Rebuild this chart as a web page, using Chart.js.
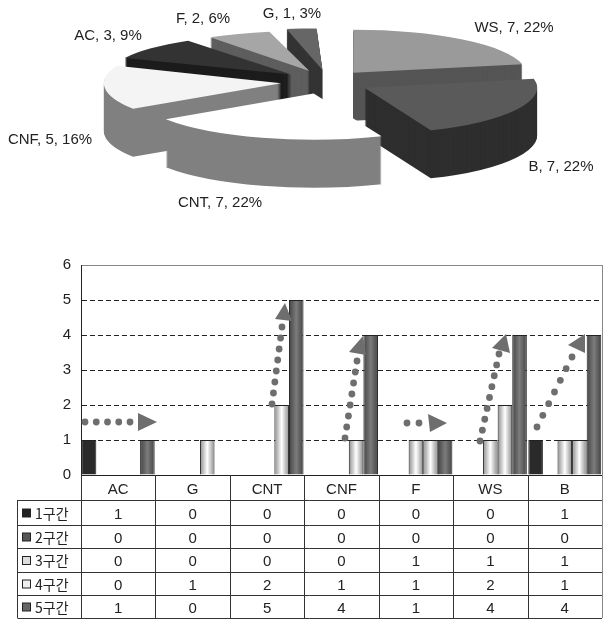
<!DOCTYPE html>
<html>
<head>
<meta charset="utf-8">
<style>
body { margin: 0; background: #fff; }
canvas { position: absolute; left: 0; top: 0; filter: blur(0.45px); }
</style>
<script src="https://cdn.jsdelivr.net/npm/chart.js@4"></script>
</head>
<body>
<canvas id="barChart" width="603" height="619"></canvas>
<canvas id="pieChart" width="603" height="250"></canvas>
<script>
// pie data, clockwise from 12 o'clock
const pieCategories = ['WS', 'B', 'CNT', 'CNF', 'AC', 'F', 'G'];
const pieValues = [7, 7, 7, 5, 3, 2, 1];
const piePercents = [22, 22, 22, 16, 9, 6, 3];
const pieTopColors = ['#9a9a9a', '#5a5a5a', '#ffffff', '#f4f4f4', '#333333', '#a6a6a6', '#666666'];
const pieSideColors = ['#555555', '#2e2e2e', '#808080', '#808080', '#1c1c1c', '#5e5e5e', '#333333'];
const pieDrawOrder = [6, 5, 4, 0, 1, 3, 2];
const pieLabelSpots = [[514, 28], [561, 167], [220, 203], [50, 140], [108, 36], [203, 19], [292, 14]];
// back slices get smaller (perspective): x scale, y scale, x nudge per slice
const pieFit = [[0.97, 0.93, -3], [0.97, 1, -3], [1, 1, 0], [0.96, 0.97, 0], [0.92, 0.8, 0], [0.9, 0.75, 0], [1, 0.75, 0]];

// bar + table data
const categories = ['AC', 'G', 'CNT', 'CNF', 'F', 'WS', 'B'];
const seriesNames = ['1구간', '2구간', '3구간', '4구간', '5구간'];
const series1 = [1, 0, 0, 0, 0, 0, 1];
const series2 = [0, 0, 0, 0, 0, 0, 0];
const series3 = [0, 0, 0, 0, 1, 1, 1];
const series4 = [0, 1, 2, 1, 1, 2, 1];
const series5 = [1, 0, 5, 4, 1, 4, 4];
const yTicks = [0, 1, 2, 3, 4, 5, 6];

const allSeries = [series1, series2, series3, series4, series5];
const keyColors = ['#222222', '#555555', '#dddddd', '#eeeeee', '#666666'];
const rowLines = [500, 525, 548, 572, 595, 618];

// dotted arrows over the bars: dots from/to, count, then the head triangle
const arrows = [
    { from: [85, 422], to: [130, 422], dots: 5, head: [[138, 413], [157, 422], [138, 431]] },
    { from: [272, 404], to: [282, 327], dots: 8, head: [[285, 303], [275, 319], [292, 321]] },
    { from: [345, 438], to: [357, 361], dots: 8, head: [[363, 336], [349, 352], [366, 355]] },
    { from: [407, 423], to: [419, 423], dots: 2, head: [[428, 414], [447, 423], [430, 432]] },
    { from: [480, 441], to: [499, 354], dots: 9, head: [[506, 334], [492, 348], [510, 353]] },
    { from: [537, 427], to: [572, 357], dots: 7, head: [[568, 345], [585, 334], [585, 353]] }
];

const textFont = '15px "Liberation Sans", Arial, sans-serif';

// squash the pie and stack it up so it looks 3D
const pie3d = {
    id: 'pie3d',
    beforeDatasetDraw(chart) {
        const ctx = chart.ctx;
        const arcs = chart.getDatasetMeta(0).data;
        const squash = 0.26;
        const depth = 48;

        function drawSlice(arc, i) {
            const mid = (arc.startAngle + arc.endAngle) / 2;
            const shift = arc.options.offset / 4;
            const apexX = arc.x + Math.cos(mid) * shift;
            const apexY = arc.y + Math.sin(mid) * shift;
            ctx.save();
            ctx.translate(apexX + pieFit[i][2], apexY);
            ctx.scale(pieFit[i][0], pieFit[i][1]);
            ctx.translate(-apexX, -apexY);
            arc.draw(ctx);
            ctx.restore();
        }

        ctx.save();
        ctx.translate(327, 82);
        ctx.scale(1, squash);
        ctx.translate(-arcs[0].x, -arcs[0].y);
        pieDrawOrder.forEach(i => {
            const arc = arcs[i];
            const topOptions = arc.options;
            arc.options = { ...topOptions, backgroundColor: pieSideColors[i] };
            for (let d = depth; d > 0; d--) {
                ctx.save();
                ctx.translate(0, d / squash);
                drawSlice(arc, i);
                ctx.restore();
            }
            arc.options = topOptions;
            drawSlice(arc, i);
        });
        ctx.restore();
        return false;
    },
    afterDraw(chart) {
        const ctx = chart.ctx;
        ctx.save();
        ctx.font = textFont;
        ctx.fillStyle = '#222';
        ctx.textAlign = 'center';
        ctx.textBaseline = 'middle';
        pieCategories.forEach((name, i) => {
            const spot = pieLabelSpots[i];
            ctx.fillText(name + ', ' + pieValues[i] + ', ' + piePercents[i] + '%', spot[0], spot[1]);
        });
        ctx.restore();
    }
};

new Chart(document.getElementById('pieChart'), {
    type: 'pie',
    data: {
        labels: pieCategories,
        datasets: [{
            data: pieValues,
            backgroundColor: pieTopColors,
            borderWidth: 0,
            offset: 184,
            radius: 177
        }]
    },
    options: {
        responsive: false,
        animation: false,
        events: [],
        plugins: { legend: { display: false }, tooltip: { enabled: false } }
    },
    plugins: [pie3d]
});

function barFill(stops) {
    return function(c) {
        const xScale = c.chart.scales.x;
        if (!xScale || c.dataIndex === undefined) return stops[1];
        const slot = xScale.width / categories.length;
        const bar = slot * 0.98 / allSeries.length;
        const left = xScale.getPixelForValue(c.dataIndex) - slot * 0.49 + c.datasetIndex * bar;
        if (!isFinite(left) || !isFinite(bar)) return stops[1];
        const g = c.chart.ctx.createLinearGradient(left, 0, left + bar, 0);
        stops.forEach((s, i) => g.addColorStop(i / (stops.length - 1), s));
        return g;
    };
}

const barFills = [
    '#2a2a2a',
    '#555555',
    barFill(['#8c8c8c', '#ffffff', '#8c8c8c']),
    barFill(['#8c8c8c', '#ffffff', '#8c8c8c']),
    barFill(['#444444', '#7c7c7c', '#444444'])
];

// data table under the axis + arrows
const tableAndArrows = {
    id: 'tableAndArrows',
    afterDraw(chart) {
        const ctx = chart.ctx;
        const area = chart.chartArea;
        const x = chart.scales.x;
        const slot = x.width / categories.length;
        const bottom = rowLines[rowLines.length - 1];
        const tableLeft = 17.5;

        arrows.forEach(a => {
            ctx.fillStyle = '#6e6e6e';
            for (let i = 0; i < a.dots; i++) {
                const t = a.dots > 1 ? i / (a.dots - 1) : 0;
                ctx.beginPath();
                ctx.arc(a.from[0] + (a.to[0] - a.from[0]) * t, a.from[1] + (a.to[1] - a.from[1]) * t, 3.4, 0, Math.PI * 2);
                ctx.fill();
            }
            ctx.beginPath();
            ctx.moveTo(a.head[0][0], a.head[0][1]);
            ctx.lineTo(a.head[1][0], a.head[1][1]);
            ctx.lineTo(a.head[2][0], a.head[2][1]);
            ctx.closePath();
            ctx.fill();
        });

        ctx.strokeStyle = '#333';
        ctx.lineWidth = 1;
        ctx.beginPath();
        rowLines.forEach(y => {
            ctx.moveTo(tableLeft, y + 0.5);
            ctx.lineTo(area.right, y + 0.5);
        });
        ctx.moveTo(tableLeft, rowLines[0]);
        ctx.lineTo(tableLeft, bottom);
        for (let i = 0; i < categories.length; i++) {
            const px = Math.round(area.left + slot * i) + 0.5;
            ctx.moveTo(px, area.bottom);
            ctx.lineTo(px, bottom);
        }
        ctx.stroke();

        ctx.strokeStyle = '#888';
        ctx.beginPath();
        ctx.moveTo(area.right + 0.5, area.top);
        ctx.lineTo(area.right + 0.5, bottom);
        ctx.stroke();

        ctx.textBaseline = 'middle';
        allSeries.forEach((values, r) => {
            const mid = (rowLines[r] + rowLines[r + 1]) / 2 + 1;
            ctx.fillStyle = keyColors[r];
            ctx.strokeStyle = '#222';
            ctx.fillRect(22.5, mid - 4.5, 8, 8);
            ctx.strokeRect(22.5, mid - 4.5, 8, 8);
            ctx.fillStyle = '#222';
            ctx.textAlign = 'left';
            ctx.font = '14px "Noto Sans CJK KR", sans-serif';
            ctx.fillText(seriesNames[r], 35, mid);
            ctx.textAlign = 'center';
            ctx.font = textFont;
            values.forEach((v, i) => {
                ctx.fillText(String(v), x.getPixelForValue(i), mid + 1);
            });
        });
    }
};

new Chart(document.getElementById('barChart'), {
    type: 'bar',
    data: {
        labels: categories,
        datasets: allSeries.map((values, i) => ({
            label: seriesNames[i],
            data: values,
            backgroundColor: barFills[i],
            borderColor: '#222222',
            borderWidth: 1,
            categoryPercentage: 0.98,
            barPercentage: 1
        }))
    },
    options: {
        responsive: false,
        animation: false,
        events: [],
        layout: { padding: { top: 265, right: 1, left: 0, bottom: 0 } },
        plugins: { legend: { display: false }, tooltip: { enabled: false } },
        scales: {
            x: {
                afterFit(s) { s.height = 144; },
                grid: { display: false, drawTicks: false },
                border: { color: '#222222' },
                ticks: { color: '#222', font: { family: '"Liberation Sans", Arial', size: 15 }, padding: 6, maxRotation: 0 }
            },
            y: {
                min: 0,
                max: 6,
                afterFit(s) { s.width = 81; },
                afterBuildTicks(s) { s.ticks = yTicks.map(v => ({ value: v })); },
                grid: {
                    drawTicks: false,
                    color: c => c.tick && c.tick.value === 6 ? '#888888' : '#222222'
                },
                border: {
                    color: '#222222',
                    dash: c => c.tick && c.tick.value === 6 ? [] : [5, 3]
                },
                ticks: { color: '#222', font: { family: '"Liberation Sans", Arial', size: 15 }, padding: 10 }
            }
        }
    },
    plugins: [tableAndArrows]
});
</script>
</body>
</html>
